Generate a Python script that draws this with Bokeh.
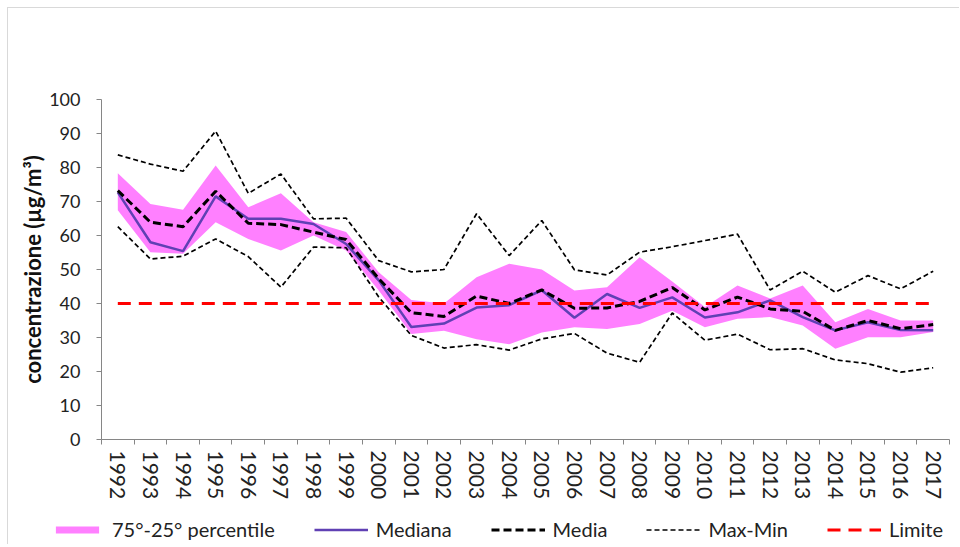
from bokeh.plotting import figure
from bokeh.layouts import column
from bokeh.models import Range1d, FixedTicker, Legend, LegendItem
from bokeh.embed import file_html
from bokeh.resources import INLINE

years = [str(y) for y in range(1992, 2018)]

p75 = [78.3, 69.3, 67.6, 80.6, 68.3, 72.4, 63.9, 61.0, 49.2, 41.0, 40.0, 47.7, 51.7,
       50.0, 43.8, 44.8, 53.6, 46.5, 39.0, 45.3, 41.5, 45.3, 34.5, 38.4, 35.0, 35.0]
p25 = [67.4, 55.1, 54.6, 63.9, 59.0, 55.6, 60.0, 55.6, 43.8, 31.0, 32.0, 29.5, 28.0,
       31.5, 33.0, 32.5, 34.0, 37.9, 33.0, 35.5, 36.0, 33.5, 26.7, 30.1, 30.1, 31.6]
mediana = [72.7, 58.0, 55.4, 71.5, 64.9, 64.9, 63.4, 57.5, 46.8, 33.1, 34.1, 38.8, 39.5,
           43.9, 35.8, 42.8, 38.7, 41.8, 35.9, 37.4, 40.9, 36.0, 32.1, 34.5, 32.2, 32.1]
media = [73.2, 63.9, 62.6, 73.0, 63.6, 63.2, 61.0, 58.8, 47.3, 37.3, 36.2, 42.2, 40.0,
         44.0, 38.6, 38.7, 40.6, 44.7, 38.1, 41.9, 38.4, 37.7, 32.1, 35.0, 32.6, 33.8]
massimo = [83.7, 81.0, 78.9, 90.7, 72.4, 78.1, 64.9, 65.1, 52.6, 49.3, 50.0, 66.4, 54.1,
           64.4, 49.9, 48.4, 55.1, 56.7, 58.5, 60.4, 44.0, 49.5, 43.3, 48.2, 44.3, 49.5]
minimo = [62.6, 53.1, 53.9, 59.0, 53.8, 44.8, 56.6, 56.4, 41.9, 30.6, 26.9, 27.9, 26.3,
          29.6, 31.2, 25.4, 22.7, 37.2, 29.2, 31.0, 26.4, 26.7, 23.4, 22.3, 19.8, 21.1]
limite = [40] * len(years)

y_ticks = list(range(0, 101, 10))
legend_labels = ["75°-25° percentile", "Mediana", "Media", "Max-Min", "Limite"]

FONT = "Lato"
xs = [i + 0.5 for i in range(len(years))]

BAND = dict(fill_color="#ff80ff", fill_alpha=1.0)
MED = dict(line_color="#6040b4", line_width=2.5)
MEAN = dict(line_color="black", line_width=3, line_dash="8 4")
MAXMIN = dict(line_color="black", line_width=1.7, line_dash="5 3")
LIM = dict(line_color="#ff0000", line_width=3, line_dash="13 8")


def add_series(fig, visible=True):
    rs = [
        fig.varea(x=xs, y1=p25, y2=p75, **BAND),
        fig.line(xs, mediana, **MED),
        fig.line(xs, media, **MEAN),
        fig.line(xs, massimo, **MAXMIN),
        fig.line(xs, minimo, **MAXMIN),
        fig.line(xs, limite, **LIM),
    ]
    for r in rs:
        r.visible = visible
    return rs


p = figure(width=951, height=497, output_backend="svg", toolbar_location=None,
           x_range=Range1d(0, len(years)), y_range=Range1d(0, 100),
           min_border_left=93, min_border_right=10, min_border_top=91, min_border_bottom=66)
p.outline_line_color = None
p.grid.visible = False
p.background_fill_color = "white"
p.border_fill_color = "white"
add_series(p)

xa = p.xaxis[0]
xa.ticker = FixedTicker(ticks=xs, minor_ticks=list(range(len(years) + 1)))
xa.major_label_overrides = {x: y for x, y in zip(xs, years)}
xa.major_label_orientation = "vertical"
xa.major_tick_out = 0
xa.major_tick_in = 0
xa.minor_tick_out = 5
xa.minor_tick_in = 0
xa.minor_tick_line_color = "#868686"
xa.axis_line_color = "#868686"
xa.major_label_text_font = FONT
xa.major_label_text_font_size = "21px"
xa.major_label_text_color = "#222222"
xa.major_label_standoff = 6

ya = p.yaxis[0]
ya.ticker = FixedTicker(ticks=y_ticks)
ya.major_tick_out = 5
ya.major_tick_in = 0
ya.minor_tick_line_color = None
ya.major_tick_line_color = "#868686"
ya.axis_line_color = "#868686"
ya.major_label_text_font = FONT
ya.major_label_text_font_size = "18px"
ya.major_label_text_color = "#222222"
ya.major_label_standoff = 16
ya.axis_label = "concentrazione (µg/m³)"
ya.axis_label_text_font = FONT
ya.axis_label_text_font_style = "bold"
ya.axis_label_text_font_size = "22px"
ya.axis_label_text_color = "#111111"
ya.axis_label_standoff = 0

# legend strip below the chart (its series are hidden; only the legend shows)
lf = figure(width=951, height=39, output_backend="svg", toolbar_location=None,
            x_range=Range1d(0, len(years)), y_range=Range1d(0, 100),
            min_border_left=0, min_border_right=0, min_border_top=0, min_border_bottom=0)
if "frame_align" in lf.properties():
    lf.frame_align = False
lf.axis.visible = False
lf.grid.visible = False
lf.outline_line_color = None
lf.border_fill_color = "white"
lf.background_fill_color = "white"
band_r, med_r, mean_r, max_r, min_r, lim_r = add_series(lf, visible=False)

legend = Legend(items=[
    LegendItem(label=legend_labels[0], renderers=[band_r]),
    LegendItem(label=legend_labels[1], renderers=[med_r]),
    LegendItem(label=legend_labels[2], renderers=[mean_r]),
    LegendItem(label=legend_labels[3], renderers=[max_r]),
    LegendItem(label=legend_labels[4], renderers=[lim_r]),
], orientation="horizontal", location=(42, 3))
legend.glyph_width = 54
legend.glyph_height = 9
legend.label_standoff = 8
legend.spacing = 39
legend.padding = 0
legend.margin = 0
legend.border_line_color = None
legend.background_fill_alpha = 0
legend.label_text_font = FONT
legend.label_text_font_size = "20px"
legend.label_text_color = "#222222"
lf.add_layout(legend, "center")

root = column(p, lf, spacing=0)
root.styles = {"margin-left": "7px", "margin-top": "7px",
               "border-left": "1px solid #d9d9d9", "border-top": "1px solid #d9d9d9"}

open("out.html", "w").write(file_html(root, INLINE))
